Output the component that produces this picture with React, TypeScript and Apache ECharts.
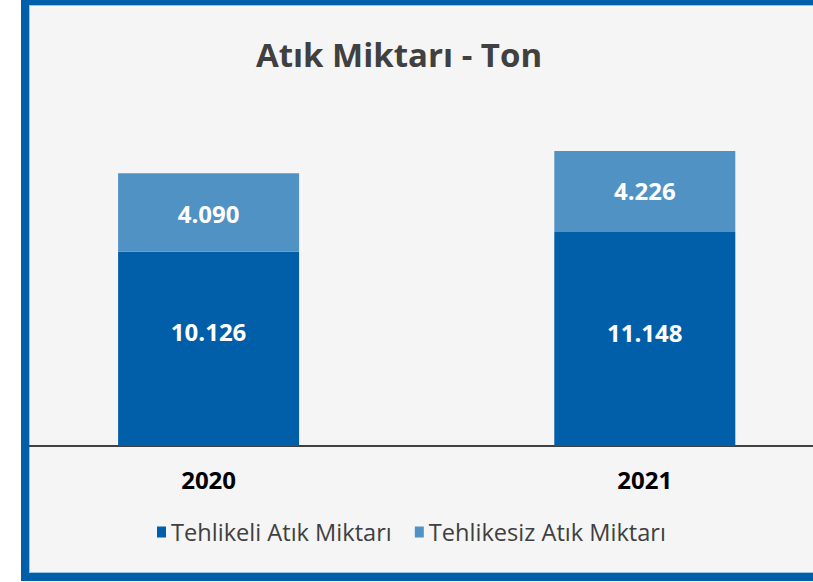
import React, { useEffect, useRef } from "react";
import * as echarts from "echarts";

const years = ["2020", "2021"];
const hazardous = [10126, 11148];
const nonHazardous = [4090, 4226];
const seriesNames = ["Tehlikeli Atık Miktarı", "Tehlikesiz Atık Miktarı"];
const titleText = "Atık Miktarı - Ton";

const DARK = "#005FA8";
const LIGHT = "#5192C4";
const FONT = "'Open Sans', 'Noto Sans', sans-serif";

const fmt = (v: number) => String(v).replace(/\B(?=(\d{3})+(?!\d))/g, ".");

// label vertical nudges (styling only)
const darkOffsets = [-17, -7];
const lightOffsets = [1, -1];

export default function App() {
  const ref = useRef<HTMLDivElement>(null);
  useEffect(() => {
    if (!ref.current) return;
    const chart = echarts.init(ref.current, undefined, { renderer: "svg" });
    const labelBase = {
      show: true,
      position: "inside" as const,
      color: "#ffffff",
      fontFamily: FONT,
      fontWeight: "bold" as const,
      fontSize: 24,
      formatter: (p: any) => fmt(p.value),
    };
    chart.setOption({
      animation: false,
      title: {
        text: titleText,
        left: 415,
        top: 28,
        textAlign: "center",
        textStyle: { fontFamily: FONT, fontWeight: "bold", fontSize: 33, color: "#404040" },
      },
      legend: {
        data: seriesNames,
        left: 173,
        top: 510,
        icon: "rect",
        itemWidth: 9,
        itemHeight: 11,
        itemGap: 23,
        textStyle: { fontFamily: FONT, fontSize: 23.6, color: "#404040" },
      },
      grid: { left: 11.5, width: 872.4, top: 134, bottom: 127, containLabel: false },
      xAxis: {
        type: "category",
        data: years,
        axisTick: { show: false },
        axisLine: { lineStyle: { color: "#404040", width: 2 } },
        axisLabel: {
          margin: 21,
          fontFamily: FONT,
          fontWeight: "bold",
          fontSize: 24,
          color: "#000000",
        },
      },
      yAxis: { type: "value", min: 0, max: 16000, show: false, splitLine: { show: false } },
      series: [
        {
          name: seriesNames[0],
          type: "bar",
          stack: "total",
          barWidth: 181,
          itemStyle: { color: DARK },
          data: hazardous.map((v, i) => ({ value: v, label: { offset: [0, darkOffsets[i]] } })),
          label: labelBase,
        },
        {
          name: seriesNames[1],
          type: "bar",
          stack: "total",
          barWidth: 181,
          itemStyle: { color: LIGHT },
          data: nonHazardous.map((v, i) => ({ value: v, label: { offset: [0, lightOffsets[i]] } })),
          label: labelBase,
        },
      ],
    });
    return () => chart.dispose();
  }, []);

  return (
    <div style={{ position: "absolute", left: 0, top: 0, width: 813, height: 582, background: "#ffffff", overflow: "hidden" }}>
      <div
        style={{
          position: "absolute",
          left: 21,
          top: 0,
          width: 900,
          height: 581,
          boxSizing: "border-box",
          borderLeft: `8px solid ${DARK}`,
          borderTop: `5px solid ${DARK}`,
          borderBottom: `8px solid ${DARK}`,
          background: "#f5f5f5",
          boxShadow: "inset 1px 1px 0 0 #9cc3e6, inset 0 -1px 0 0 #9cc3e6",
          overflow: "hidden",
        }}
      >
        <div ref={ref} style={{ position: "absolute", left: -50, top: 0, width: 950, height: 568 }} />
      </div>
    </div>
  );
}
